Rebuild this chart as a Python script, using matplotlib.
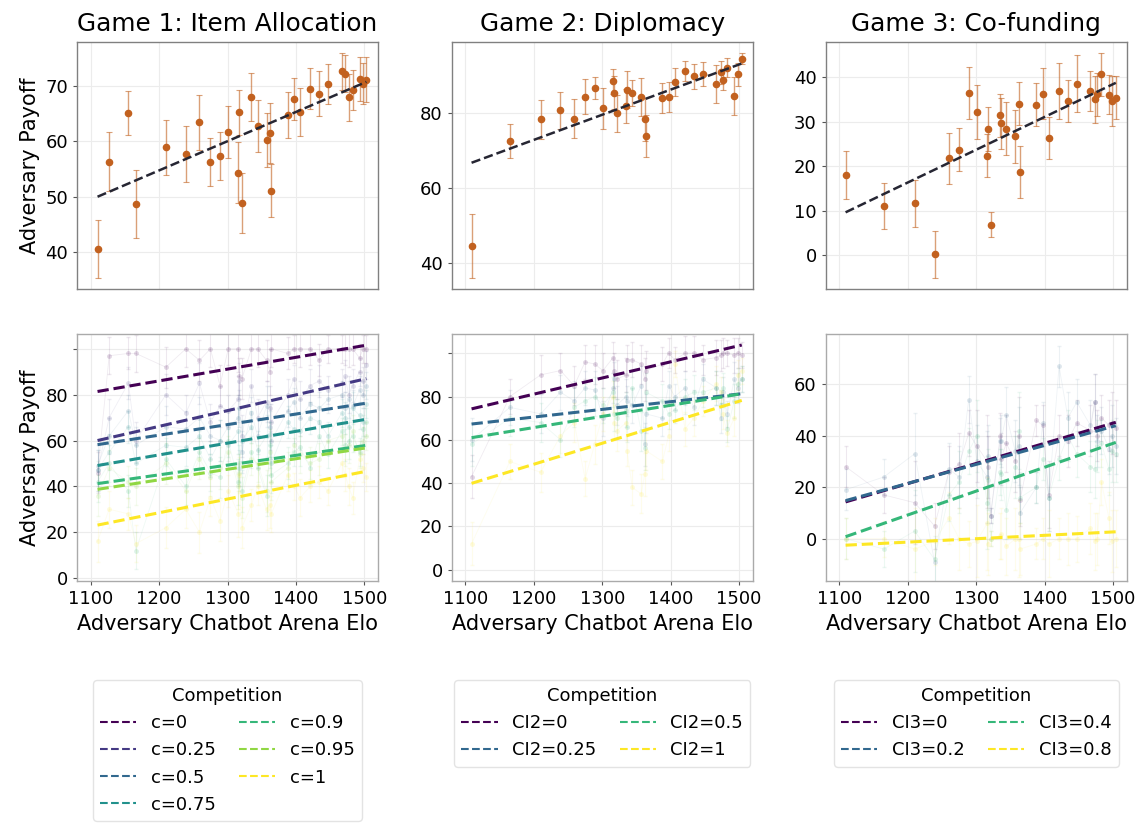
import numpy as np
import matplotlib.pyplot as plt

# adversary Elo ratings per game
elo1 = [1110, 1127, 1155, 1166, 1210, 1239, 1259, 1275, 1289, 1301, 1316, 1317, 1321, 1335, 1344, 1357,
        1362, 1364, 1388, 1397, 1406, 1421, 1434, 1447, 1467, 1472, 1477, 1483, 1493, 1498, 1503]
elo2 = [1109, 1165, 1210, 1239, 1259, 1275, 1289, 1301, 1316, 1317, 1321, 1335, 1336, 1344, 1357,
        1362, 1364, 1388, 1397, 1406, 1421, 1434, 1447, 1467, 1473, 1476, 1483, 1493, 1498, 1504]
elo3 = [1109, 1165, 1210, 1239, 1260, 1275, 1289, 1301, 1316, 1317, 1321, 1335, 1336, 1344, 1357,
        1362, 1364, 1388, 1397, 1406, 1421, 1434, 1447, 1467, 1473, 1477, 1483, 1494, 1498, 1504]

# mean adversary payoff (all competition levels) and error
pay1 = [40.6, 56.3, 65.1, 48.7, 58.9, 57.7, 63.4, 56.3, 57.4, 61.7, 54.3, 65.2, 48.9, 68.0, 62.8, 60.2,
        61.5, 51.1, 64.7, 67.6, 65.3, 69.5, 68.6, 70.3, 72.6, 72.2, 67.9, 69.2, 71.2, 70.4, 71.1]
err1 = [5.2, 5.3, 4.0, 6.1, 5.0, 5.0, 4.9, 4.3, 4.3, 4.7, 5.5, 4.1, 5.4, 4.3, 4.7, 4.9,
        5.4, 4.8, 4.1, 3.8, 4.3, 3.7, 4.0, 3.6, 3.3, 3.3, 4.3, 3.6, 4.0, 3.7, 4.0]
pay2 = [44.5, 72.6, 78.3, 80.7, 78.5, 84.3, 86.7, 81.2, 88.4, 85.4, 79.9, 81.9, 86.2, 85.4, 84.3,
        78.3, 73.9, 84.1, 84.3, 88.2, 91.2, 89.8, 90.4, 87.7, 90.9, 88.8, 92.1, 84.6, 90.3, 94.5]
err2 = [8.5, 4.5, 5.2, 5.0, 5.2, 4.7, 3.0, 5.5, 3.3, 4.4, 4.9, 4.6, 4.9, 3.5, 5.0,
        5.8, 5.6, 4.0, 4.0, 3.7, 2.8, 3.4, 3.3, 5.0, 3.1, 2.8, 2.5, 5.1, 3.1, 1.5]
pay3 = [17.9, 11.0, 11.6, 0.2, 21.7, 23.7, 36.4, 32.1, 22.3, 28.3, 6.8, 31.4, 29.6, 28.4, 26.7,
        34.0, 18.7, 33.8, 36.3, 26.3, 36.9, 34.6, 38.5, 36.9, 35.0, 36.1, 40.6, 36.0, 34.6, 35.4]
err3 = [5.4, 5.1, 5.2, 5.3, 5.7, 4.8, 5.9, 6.0, 4.8, 5.0, 2.8, 4.9, 5.7, 6.0, 6.0,
        4.8, 5.9, 4.9, 5.7, 4.8, 6.3, 4.7, 6.4, 4.5, 5.3, 4.8, 4.8, 4.4, 5.6, 4.9]

# regression line end points (Elo range -> payoff)
fit_x = [[1110, 1503], [1109, 1504], [1109, 1504]]
fit_top = [[50.0, 70.7], [66.7, 93.2], [9.6, 38.7]]

# payoff split by competition level
labels1 = ['c=0', 'c=0.25', 'c=0.5', 'c=0.75', 'c=0.9', 'c=0.95', 'c=1']
lvl1 = [
    [46, 97, 98, 98, 92, 100, 95, 100, 84, 100, 100, 88, 87, 100, 100, 95, 90, 100, 98, 100, 100, 100, 95, 100, 100, 100, 100, 100, 96, 100, 100],
    [47, 70, 85, 60, 80, 72, 85, 68, 75, 73, 78, 86, 62, 84, 70, 77, 74, 68, 80, 87, 78, 84, 86, 82, 85, 88, 80, 84, 90, 86, 93],
    [49, 62, 73, 58, 66, 65, 70, 62, 60, 66, 70, 74, 55, 72, 62, 75, 66, 60, 73, 77, 70, 76, 74, 78, 80, 74, 78, 75, 82, 80, 84],
    [47, 55, 66, 50, 58, 57, 62, 52, 60, 58, 64, 48, 60, 66, 56, 62, 63, 50, 68, 65, 64, 70, 68, 62, 72, 70, 66, 74, 71, 68, 76],
    [42, 50, 38, 12, 52, 40, 55, 46, 44, 60, 42, 50, 38, 55, 48, 36, 58, 45, 50, 55, 57, 48, 62, 54, 64, 58, 60, 62, 55, 65, 68],
    [36, 48, 42, 40, 50, 38, 52, 44, 48, 55, 40, 46, 35, 52, 50, 38, 55, 42, 48, 58, 54, 50, 52, 60, 62, 56, 58, 64, 54, 60, 62],
    [16, 30, 28, 15, 22, 30, 20, 35, 25, 38, 28, 45, 22, 32, 40, 30, 32, 28, 45, 40, 35, 40, 42, 38, 50, 45, 40, 35, 52, 48, 44],
]
fit1 = [[81.4, 101.6], [60.0, 87.0], [58.2, 76.3], [49.1, 69.3], [41.2, 57.9], [38.7, 56.8], [23.1, 46.6]]
err_lvl1 = [9, 8, 7, 8, 9, 8, 9, 8, 9, 7, 10, 8, 9, 7, 8, 9, 10, 8, 7, 6, 8, 7, 7, 6, 6, 7, 8, 7, 6, 6, 6]

labels2 = ['CI2=0', 'CI2=0.25', 'CI2=0.5', 'CI2=1']
lvl2 = [
    [43, 80, 90, 92, 85, 96, 95, 92, 98, 92, 88, 90, 97, 97, 95, 88, 92, 95, 100, 97, 100, 100, 97, 98, 99, 100, 100, 99, 100, 99],
    [60, 75, 72, 82, 78, 84, 83, 70, 84, 88, 76, 80, 78, 76, 85, 58, 72, 70, 85, 80, 84, 75, 88, 84, 70, 82, 72, 88, 84, 88],
    [58, 70, 68, 60, 75, 78, 80, 76, 82, 72, 70, 74, 66, 84, 64, 56, 82, 78, 72, 74, 80, 82, 82, 84, 76, 84, 65, 78, 86, 88],
    [12, 50, 45, 62, 68, 42, 58, 72, 80, 68, 64, 68, 55, 38, 35, 44, 55, 50, 62, 95, 65, 70, 78, 86, 82, 72, 63, 70, 90, 92],
]
fit2 = [[74.3, 103.8], [67.3, 81.3], [61.0, 81.3], [39.9, 78.2]]
err_lvl2 = [10, 8, 9, 8, 9, 8, 9, 8, 7, 8, 9, 8, 7, 8, 9, 10, 9, 8, 7, 6, 8, 8, 7, 8, 7, 7, 6, 8, 7, 6]

labels3 = ['CI3=0', 'CI3=0.2', 'CI3=0.4', 'CI3=0.8']
lvl3 = [
    [28, 17, 14, 5, 26, 29, 41, 36, 30, 28, 9, 40, 31, 37, 30, 40, 15, 46, 44, 17, 40, 38, 45, 42, 53, 40, 47, 44, 45, 43],
    [19, 24, 33, -9, 27, 24, 54, 30, 24, 32, 9, 38, 38, 48, 34, 36, 10, 20, 45, 16, 67, 47, 53, 44, 53, 38, 42, 35, 40, 36],
    [0, -4, 3, -8, 17, 22, 34, 40, 14, 23, 0, 26, 25, 11, 28, 42, 16, 20, 31, 16, 31, 40, 33, 28, 27, 36, 37, 27, 34, 33],
    [0, 0, -4, -1, 8, 0, -2, -1, 6, -2, 0, 1, 2, -3, 0, 0, -4, -2, 0, -2, 0, 0, 0, 4, -1, 0, 22, 8, -1, 0],
]
fit3 = [[14.3, 45.2], [14.8, 43.9], [0.8, 37.4], [-2.5, 2.7]]
err_lvl3 = [8, 7, 16, 9, 10, 12, 9, 14, 18, 12, 3, 9, 10, 11, 12, 15, 10, 6, 8, 13, 8, 10, 9, 10, 11, 10, 9, 10, 12, 11]

titles = ['Game 1: Item Allocation', 'Game 2: Diplomacy', 'Game 3: Co-funding']

orange = '#c2611f'

fig = plt.figure(figsize=(11.41, 8.24), dpi=100)
lefts = [0.0675, 0.3959, 0.7237]
w = 0.2638
top_axes = [fig.add_axes([l, 0.6493, w, 0.300]) for l in lefts]
bot_axes = [fig.add_axes([l, 0.2949, w, 0.2998]) for l in lefts]


def style(ax, spine_color):
    ax.set_xlim(1080, 1520)
    ax.set_xticks([1100, 1200, 1300, 1400, 1500])
    ax.grid(True, color='#ececec', lw=0.8)
    ax.set_axisbelow(True)
    for s in ax.spines.values():
        s.set_color(spine_color)
        s.set_linewidth(1.0)
    ax.tick_params(axis='both', labelsize=13, length=3, color='#555555', width=0.8)


# top row: average payoff per adversary
top_data = [(elo1, pay1, err1), (elo2, pay2, err2), (elo3, pay3, err3)]
top_ticks = [[40, 50, 60, 70], [40, 60, 80], [0, 10, 20, 30, 40]]
for i, ax in enumerate(top_axes):
    x, y, e = top_data[i]
    style(ax, '#808080')
    ax.errorbar(x, y, yerr=e, fmt='none', ecolor=orange, elinewidth=1.0,
                capsize=2, capthick=0.8, alpha=0.6, zorder=2)
    ax.scatter(x, y, s=20, color=orange, zorder=3)
    ax.plot(fit_x[i], fit_top[i], '--', color='#262633', lw=1.8, zorder=4)
    ax.set_yticks(top_ticks[i])
    ax.tick_params(axis='x', labelbottom=False, length=0)
    ax.set_title(titles[i], fontsize=17.8, pad=8)
top_axes[0].set_ylabel('Adversary Payoff', fontsize=15)

# bottom row: payoff per competition level
bot_data = [(elo1, lvl1, fit1, err_lvl1, labels1),
            (elo2, lvl2, fit2, err_lvl2, labels2),
            (elo3, lvl3, fit3, err_lvl3, labels3)]
bot_ylim = [(-1.3, 106.5), (-5.2, 108.9), (-16.4, 79.5)]
for i, ax in enumerate(bot_axes):
    x, levels, fits, e, labs = bot_data[i]
    style(ax, '#aaaaaa')
    colors = plt.cm.viridis(np.linspace(0, 1, len(levels)))
    for vals, fit, lab, col in zip(levels, fits, labs, colors):
        ax.errorbar(x, vals, yerr=e, fmt='none', ecolor=col, elinewidth=0.8,
                    capsize=1.5, alpha=0.09, zorder=1)
        ax.plot(x, vals, '-', color=col, lw=0.6, alpha=0.08, zorder=1)
        ax.scatter(x, vals, s=12, color=col, alpha=0.16, lw=0, zorder=2)
        ax.plot(fit_x[i], fit, '--', color=col, lw=2.2, label=lab, zorder=3)
    ax.set_ylim(*bot_ylim[i])
    ax.set_xlabel('Adversary Chatbot Arena Elo', fontsize=15)
    leg = ax.legend(title='Competition', loc='upper center', bbox_to_anchor=(0.5, -0.365),
                    ncol=2, fontsize=13, title_fontsize=13, frameon=True,
                    handlelength=2.0, columnspacing=1.3)
    leg.get_frame().set_edgecolor('#dddddd')
    for h in leg.get_lines():
        h.set_linewidth(1.5)

bot_axes[0].set_yticks([0, 20, 40, 60, 80, 100])
bot_axes[0].set_yticklabels(['0', '20', '40', '60', '80', ''])
bot_axes[1].set_yticks([0, 20, 40, 60, 80, 100])
bot_axes[1].set_yticklabels(['0', '20', '40', '60', '80', ''])
bot_axes[2].set_yticks([0, 20, 40, 60])
bot_axes[0].set_ylabel('Adversary Payoff', fontsize=15)

fig.savefig('out.png', dpi=100)
